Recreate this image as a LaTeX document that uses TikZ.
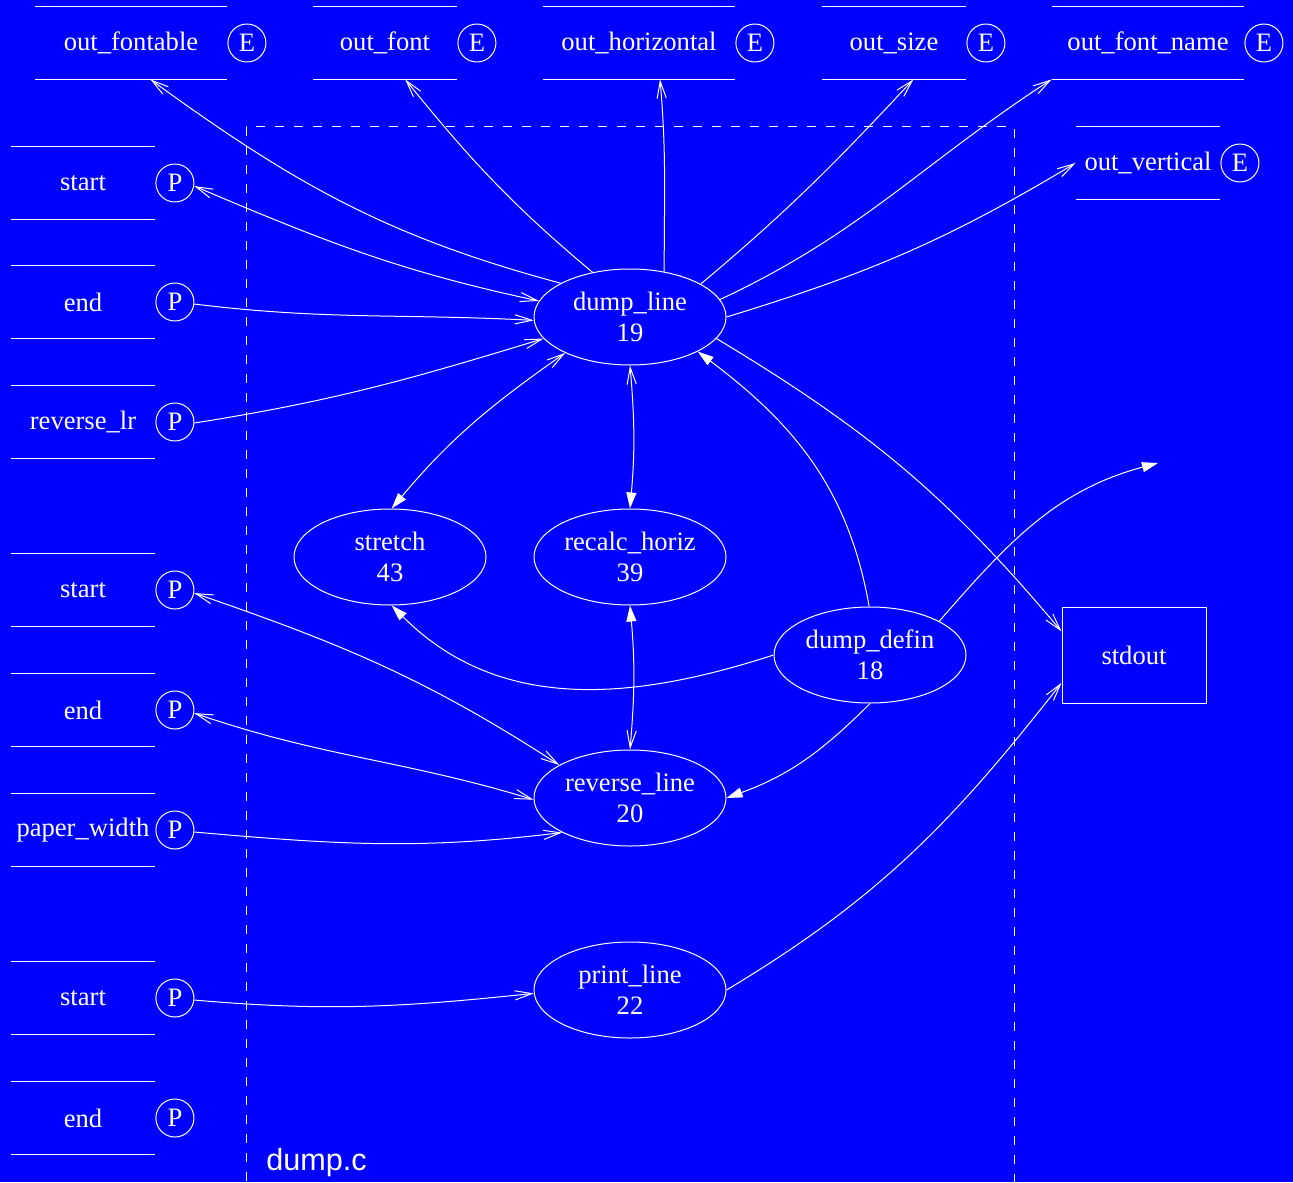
\documentclass[tikz,border=0pt]{standalone}
\usepackage{fontspec}
\setmainfont{Liberation Serif}
\newfontfamily\labelsans{Liberation Sans}
\usetikzlibrary{arrows.meta,shapes.geometric}

\tikzset{
  openv/.tip={Straight Barb[length=8.5pt,width=4.6pt,line width=0.5pt]},
  solidv/.tip={Triangle[length=8pt,width=5pt]},
  every node/.style={text=white, font=\fontsize{13.3pt}{15.5pt}\selectfont},
  func/.style={ellipse, draw=white, line width=0.5pt, minimum width=96pt,
    minimum height=48pt, inner sep=0pt, align=center},
  stubbox/.style={minimum width=#1, minimum height=36pt, inner sep=0pt,
    append after command={
      (\tikzlastnode.north west) edge[draw=white, line width=0.5pt, -] (\tikzlastnode.north east)
      (\tikzlastnode.south west) edge[draw=white, line width=0.5pt, -] (\tikzlastnode.south east)}},
  tag/.style={circle, draw=white, line width=0.5pt, minimum size=19pt,
    inner sep=0pt, anchor=west},
  conn/.style={draw=white, line width=0.5pt},
  filebox/.style={draw=white, line width=0.5pt, dash pattern=on 4.5pt off 5pt},
}

\begin{document}
\begin{tikzpicture}[x=0.5pt,y=-0.5pt]
  % canvas
  \fill[blue] (0,0) rectangle (1293,1182);
  \useasboundingbox (0,0) rectangle (1293,1182);

  % file cluster
  \draw[filebox] (246,1200) -- (246,127) -- (1014,127) -- (1014,1200);
  \node[anchor=base west, inner sep=0pt, font=\labelsans\fontsize{15.3pt}{18pt}\selectfont] (fname) at (266,1170) {dump.c};

  % external variables (top and right)
  \node[stubbox=96pt] (ofontable) at (131,43) {out\_fontable};
  \node[tag] (ofontableE) at (ofontable.east) {E};
  \node[stubbox=72pt] (ofont) at (385,43) {out\_font};
  \node[tag] (ofontE) at (ofont.east) {E};
  \node[stubbox=96pt] (ohoriz) at (639,43) {out\_horizontal};
  \node[tag] (ohorizE) at (ohoriz.east) {E};
  \node[stubbox=72pt] (osize) at (894,43) {out\_size};
  \node[tag] (osizeE) at (osize.east) {E};
  \node[stubbox=96pt] (ofontname) at (1148,43) {out\_font\_name};
  \node[tag] (ofontnameE) at (ofontname.east) {E};
  \node[stubbox=72pt] (overt) at (1148,163) {out\_vertical};
  \node[tag] (overtE) at (overt.east) {E};

  % parameters (left)
  \node[stubbox=72pt] (start1) at (83,183) {start};
  \node[tag] (start1P) at (start1.east) {P};
  \node[stubbox=72pt] (end1) at (83,302) {end};
  \node[tag] (end1P) at (end1.east) {P};
  \node[stubbox=72pt] (revlr) at (83,422) {reverse\_lr};
  \node[tag] (revlrP) at (revlr.east) {P};
  \node[stubbox=72pt] (start2) at (83,590) {start};
  \node[tag] (start2P) at (start2.east) {P};
  \node[stubbox=72pt] (end2) at (83,710) {end};
  \node[tag] (end2P) at (end2.east) {P};
  \node[stubbox=72pt] (paper) at (83,830) {paper\_width};
  \node[tag] (paperP) at (paper.east) {P};
  \node[stubbox=72pt] (start3) at (83,998) {start};
  \node[tag] (start3P) at (start3.east) {P};
  \node[stubbox=72pt] (end3) at (83,1118) {end};
  \node[tag] (end3P) at (end3.east) {P};

  % functions
  \node[func] (dl) at (630,317) {dump\_line\\19};
  \node[func] (st) at (390,557) {stretch\\43};
  \node[func] (rh) at (630,557) {recalc\_horiz\\39};
  \node[func] (dd) at (870,655) {dump\_defin\\18};
  \node[func] (rl) at (630,798) {reverse\_line\\20};
  \node[func] (pl) at (630,990) {print\_line\\22};

  % output stream
  \node[draw=white, line width=0.5pt, minimum width=72pt, minimum height=48pt,
    inner sep=0pt] (stdout) at (1134,655) {stdout};
  \coordinate (loose) at (1158,463);

  % dump_line writes the output state
  \draw[conn,-openv] (dl.154) to[out=165,in=-36] (ofontable.-62);
  \draw[conn,-openv] (dl.130) to[out=140,in=-51] (ofont.-61);
  \draw[conn,-openv] (dl.53) to[out=90,in=-85] (ohoriz.-60);
  \draw[conn,-openv] (dl.25) to[out=40,in=-133] (osize.-62);
  \draw[conn,-openv] (dl.11) to[out=25,in=-147] (ofontname.south west);
  \draw[conn,-openv] (dl.0) to[out=17,in=-149] (overt.west);
  \draw[conn,-openv] (dl.-14) to[out=-31,in=130] (stdout.162);

  % parameters of dump_line
  \draw[conn,openv-openv] (start1P.-9) to[out=-23,in=168] (dl.170);
  \draw[conn,-openv] (end1P.-6) to[out=-7,in=177] (dl.-178);
  \draw[conn,-openv] (revlrP.-3) to[out=9,in=-163] (dl.-166);

  % calls
  \draw[conn,openv-solidv] (dl.-151) to[out=-145,in=50] (st.88);
  \draw[conn,openv-solidv] (dl.-90) to[out=-85,in=85] (rh.90);
  \draw[conn,-solidv] (dd.91) to[out=100,in=-37] (dl.-27);
  \draw[conn,-solidv] (dd.180) to[out=-162,in=-45] (st.-88);
  \draw[conn,-solidv] (dd.-90) to[out=-135,in=20] (rl.0);
  \draw[conn,-solidv] (dd.26) to[out=49,in=-165] (loose);
  \draw[conn,openv-solidv] (rl.90) to[out=85,in=-85] (rh.-90);

  % parameters of reverse_line and print_line
  \draw[conn,openv-openv] (start2P.-9) to[out=-19,in=147] (rl.155);
  \draw[conn,openv-openv] (end2P.-9) to[out=-19,in=163] (rl.-179);
  \draw[conn,-openv] (paperP.-6) to[out=-5,in=-173] (rl.-153);
  \draw[conn,-openv] (start3P.-6) to[out=-5,in=-174] (pl.-178);
  \draw[conn,-openv] (pl.0) to[out=31,in=-128] (stdout.-159);
\end{tikzpicture}
\end{document}
